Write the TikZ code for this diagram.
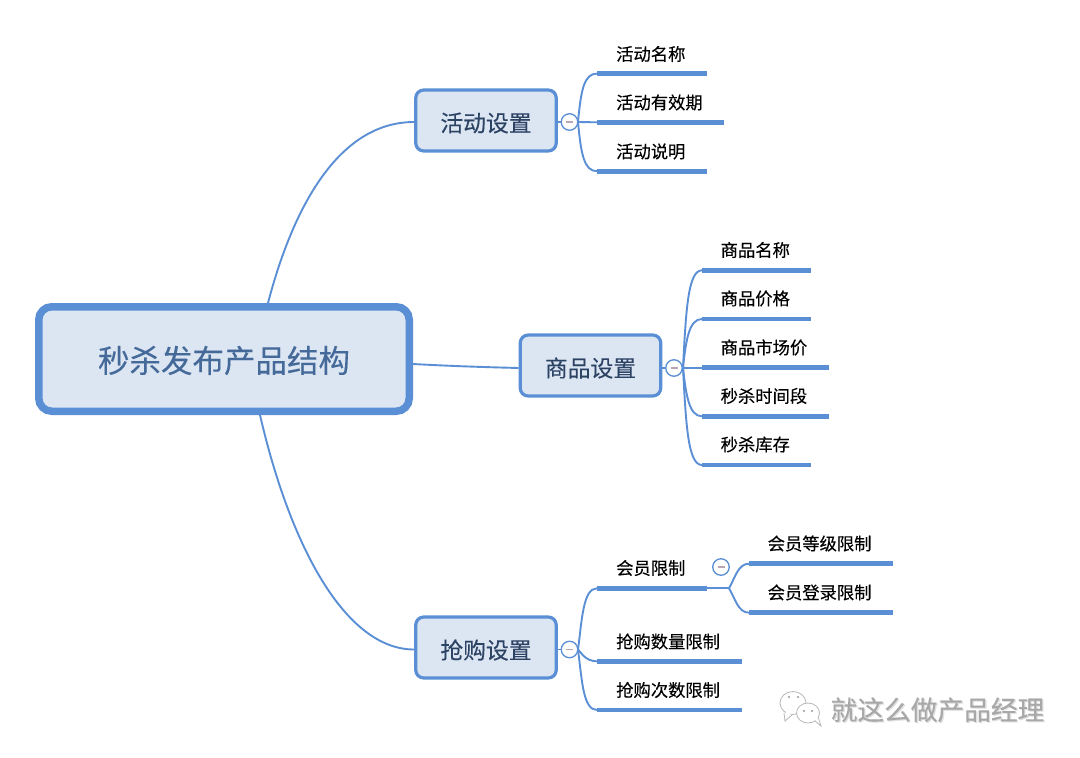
\documentclass[tikz,border=0pt]{standalone}
\usepackage{fontspec}
\setmainfont{Noto Sans CJK SC}[FakeBold=0.25]
\definecolor{blu}{HTML}{5B8FD5}
\definecolor{fillb}{HTML}{DCE6F3}
\definecolor{roottxt}{HTML}{456A9A}
\definecolor{l1txt}{HTML}{2C4364}
\definecolor{mk}{HTML}{B9A6B5}
\newcommand{\lowered}[2]{\raisebox{-#1}[\height][\depth]{#2}}
\tikzset{
  rootbox/.style={draw=blu,fill=fillb,line width=7.5pt,rounded corners=13pt,minimum width=370.5pt,minimum height=104.5pt,inner sep=0pt,font=\fontsize{31.5}{32}\selectfont,text=roottxt},
  topicbox/.style={draw=blu,fill=fillb,line width=3.2pt,rounded corners=8pt,minimum width=140.5pt,minimum height=61pt,inner sep=0pt,font=\fontsize{22.8}{23}\selectfont,text=l1txt},
  bar/.style={fill=blu,draw=none,inner sep=0pt,minimum height=4.6pt,anchor=west},
  sub/.style={font=\fontsize{17.3}{18}\selectfont,text=black,anchor=west,inner sep=0pt},
  link/.style={draw=blu,line width=1.9pt},
  toggle/.style={circle,draw=blu,fill=white,line width=1.3pt,minimum size=16.5pt,inner sep=0pt,
    path picture={\draw[mk,line width=1.1pt] ([xshift=-3.5pt]path picture bounding box.center)--([xshift=3.5pt]path picture bounding box.center);}},
  wmark/.style={font=\fontsize{26.7}{27}\selectfont,inner sep=0pt,anchor=west},
  wline/.style={draw=black!28,line width=0.8pt,fill=white}
}
\begin{document}
\begin{tikzpicture}[x=1pt,y=-1pt]
\useasboundingbox[fill=white] (0,0) rectangle (1080,758);
% hubs
\coordinate (hA) at (578,122);
\coordinate (hB) at (683,367.7);
\coordinate (hC) at (578,649.5);
\coordinate (hD) at (729,588.3);
% boxes
\node[rootbox] (root) at (224,359) {\lowered{1.5pt}{秒杀发布产品结构}};
\node[topicbox] (A) at (486,120.5) {\lowered{2.5pt}{活动设置}};
\node[topicbox] (B) at (590.5,365.5) {\lowered{2.5pt}{商品设置}};
\node[topicbox] (C) at (486,647.5) {\lowered{2.5pt}{抢购设置}};
\node[toggle] (tA) at (569.5,122) {};
\node[toggle] (tB) at (674,368) {};
\node[toggle] (tC) at (569.5,649.5) {};
\node[toggle] (tD) at (721,567) {};
% bars
\node[bar,minimum width=110pt] (a1) at (597,73.6) {};
\node[bar,minimum width=127pt] (a2) at (597,122.3) {};
\node[bar,minimum width=110pt] (a3) at (597,171.2) {};
\node[bar,minimum width=109pt] (b1) at (702,270.3) {};
\node[bar,minimum width=109pt] (b2) at (702,319) {};
\node[bar,minimum width=127pt] (b3) at (702,367.7) {};
\node[bar,minimum width=127pt] (b4) at (702,416.3) {};
\node[bar,minimum width=109pt] (b5) at (702,465) {};
\node[bar,minimum width=110pt] (c1) at (597,588.3) {};
\node[bar,minimum width=145pt] (c2) at (597,661.3) {};
\node[bar,minimum width=145pt] (c3) at (597,710) {};
\node[bar,minimum width=144pt] (d1) at (749,563.7) {};
\node[bar,minimum width=144pt] (d2) at (749,612.7) {};
% labels
\node[sub] (ta1) at (616,54) {活动名称};
\node[sub] (ta2) at (616,102.5) {活动有效期};
\node[sub] (ta3) at (616,151.5) {活动说明};
\node[sub] (tb1) at (720.5,250) {商品名称};
\node[sub] (tb2) at (720.5,298.5) {商品价格};
\node[sub] (tb3) at (720.5,347.5) {商品市场价};
\node[sub] (tb4) at (720.5,396) {秒杀时间段};
\node[sub] (tb5) at (720.5,444.5) {秒杀库存};
\node[sub] (tc1) at (616,568) {会员限制};
\node[sub] (tc2) at (616,641.5) {抢购数量限制};
\node[sub] (tc3) at (616,690) {抢购次数限制};
\node[sub] (td1) at (767.5,543.5) {会员等级限制};
\node[sub] (td2) at (767.5,592.5) {会员登录限制};
% root connectors
\draw[link] ([xshift=44pt]root.north) .. controls (295,200) and (342,122) .. (A.west |- tA);
\draw[link] ([yshift=-5pt]root.east) .. controls (450,366) and (480,367) .. (B.west |- tB);
\draw[link] ([xshift=36pt]root.south) .. controls (290,545) and (345,649.5) .. (C.west |- tC);
% box to toggle to hub
\draw[link] (A.east |- tA) -- (tA.west);
\draw[link] (B.east |- tB) -- (tB.west);
\draw[link] (C.east |- tC) -- (tC.west);
\draw[link] (tA.east) -- (hA);
\draw[link] (tB.east) -- (hB);
\draw[link] (tC.east) -- (hC);
% branches
\draw[link] (hA) .. controls (581,90) and (584,73.6) .. (a1.west);
\draw[link] (hA) -- (a2.west);
\draw[link] (hA) .. controls (581,154) and (584,171.2) .. (a3.west);
\draw[link] (hB) .. controls (686,310) and (688,270.3) .. (b1.west);
\draw[link] (hB) .. controls (686,340) and (689,319) .. (b2.west);
\draw[link] (hB) -- (b3.west);
\draw[link] (hB) .. controls (686,395) and (689,416.3) .. (b4.west);
\draw[link] (hB) .. controls (686,425) and (688,465) .. (b5.west);
\draw[link] (hC) .. controls (582,620) and (583,588.3) .. (c1.west);
\draw[link] (hC) .. controls (581,652) and (585,661.3) .. (c2.west);
\draw[link] (hC) .. controls (582,680) and (583,710) .. (c3.west);
\draw[link] (c1.east) -- (hD);
\draw[link] (hD) .. controls (735,578) and (738,563.7) .. (d1.west);
\draw[link] (hD) .. controls (735,598) and (738,612.7) .. (d2.west);
% watermark
\node[wmark,text=black!12] (wmS) at (831.8,710.8) {就这么做产品经理};
\node[wmark,text=black!34] (wm) at (830.5,709.8) {就这么做产品经理};
\draw[wline] (793,703) ellipse (13pt and 11.5pt);
\draw[wline] (784,713) -- (785,721) -- (792,715);
\fill[white] (786,711) -- (786,716) -- (792,713) -- cycle;
\draw[wline] (808,713) ellipse (11.5pt and 10pt);
\draw[wline] (815,721) -- (821,726) -- (818,717);
\fill[white] (815,719) -- (819.5,723) -- (817,716) -- cycle;
\foreach \p in {(789,697),(798,697),(804,711),(812,711)} \fill[black!40] \p circle (1.1pt);
\end{tikzpicture}
\end{document}
